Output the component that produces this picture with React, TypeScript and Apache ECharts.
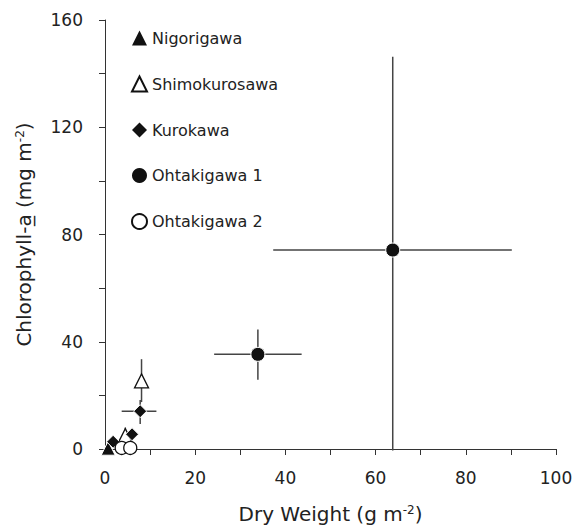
import React, { useEffect, useRef } from "react";
import * as echarts from "echarts";

// ---- data ----
const seriesNames = ["Nigorigawa", "Shimokurosawa", "Kurokawa", "Ohtakigawa 1", "Ohtakigawa 2"];

const nigoriX = [0.7];
const nigoriY = [0.3];

const shimoX = [4.5, 8.1];
const shimoY = [5.0, 25.4];
const shimoYLow = [3.0, 17.5];
const shimoYHigh = [8.0, 33.5];

const kuroX = [1.8, 6.0, 7.8];
const kuroY = [2.7, 5.5, 14.1];
const kuroXLow = [1.8, 6.0, 3.7];
const kuroXHigh = [1.8, 6.0, 11.4];
const kuroYLow = [2.7, 5.5, 9.3];
const kuroYHigh = [2.7, 5.5, 18.3];

const ohta1X = [33.9, 63.8];
const ohta1Y = [35.3, 74.2];
const ohta1XLow = [24.2, 37.3];
const ohta1XHigh = [43.6, 90.2];
const ohta1YLow = [25.8, -0.6];
const ohta1YHigh = [44.6, 146.3];

const ohta2X = [3.7, 5.6];
const ohta2Y = [0.4, 0.4];
const ohta2XLow = [3.7, 5.6];
const ohta2XHigh = [3.7, 7.0];

const xTicks = [0, 20, 40, 60, 80, 100];
const yTicks = [0, 40, 80, 120, 160];

const INK = "#111";
const FONT = "DejaVu Sans";

function pts(xs: number[], ys: number[]) {
  return xs.map((x, i) => [x, ys[i]]);
}
function errRows(xs: number[], ys: number[], xl?: number[], xh?: number[], yl?: number[], yh?: number[]) {
  return xs.map((x, i) => [
    x,
    ys[i],
    xl ? xl[i] : x,
    xh ? xh[i] : x,
    yl ? yl[i] : ys[i],
    yh ? yh[i] : ys[i],
  ]);
}

const errData = [
  ...errRows(shimoX, shimoY, undefined, undefined, shimoYLow, shimoYHigh),
  ...errRows(kuroX, kuroY, kuroXLow, kuroXHigh, kuroYLow, kuroYHigh),
  ...errRows(ohta1X, ohta1Y, ohta1XLow, ohta1XHigh, ohta1YLow, ohta1YHigh),
  ...errRows(ohta2X, ohta2Y, ohta2XLow, ohta2XHigh),
];

export default function App() {
  const ref = useRef<HTMLDivElement>(null);
  useEffect(() => {
    document.body.style.margin = "0";
    const chart = echarts.init(ref.current!, null, { renderer: "svg" });
    const filled = { color: INK, borderColor: "#fff", borderWidth: 1, opacity: 1 };
    const open = { color: "#fff", borderColor: INK, borderWidth: 1.3, opacity: 1 };
    const supRich = { sup: { fontSize: 12, verticalAlign: "top", fontFamily: FONT, color: "#222" } };
    chart.setOption({
      animation: false,
      backgroundColor: "#fff",
      textStyle: { fontFamily: FONT },
      grid: { left: 105, right: 20, top: 20, bottom: 79 },
      legend: {
        data: [
          { name: seriesNames[0], itemStyle: { borderWidth: 0 } },
          { name: seriesNames[1] },
          { name: seriesNames[2], itemStyle: { borderWidth: 0 } },
          { name: seriesNames[3], itemStyle: { borderWidth: 0 } },
          { name: seriesNames[4] },
        ],
        orient: "vertical",
        left: 126,
        top: 25,
        itemGap: 29.5,
        itemWidth: 15,
        itemHeight: 15,
        textStyle: { fontSize: 16, color: "#222", fontFamily: FONT },
      },
      xAxis: {
        type: "value",
        min: 0,
        max: 100,
        interval: 10,
        name: "Dry Weight (g m{sup|-2})",
        nameLocation: "middle",
        nameGap: 55,
        nameTextStyle: { fontSize: 20, color: "#222", fontFamily: FONT, rich: supRich },
        axisLine: { lineStyle: { color: "#333", width: 1 } },
        axisTick: { inside: false, length: 6, lineStyle: { color: "#333" } },
        axisLabel: {
          margin: 20,
          fontSize: 17,
          color: "#222",
          formatter: (v: number) => (xTicks.includes(v) ? String(v) : ""),
        },
        splitLine: { show: false },
      },
      yAxis: {
        type: "value",
        min: 0,
        max: 160,
        interval: 20,
        name: "Chlorophyll-a\u0332 (mg m{sup|-2})",
        nameLocation: "middle",
        nameRotate: 90,
        nameGap: 71,
        nameTextStyle: { fontSize: 20, color: "#222", fontFamily: FONT, rich: supRich },
        axisLine: { show: true, lineStyle: { color: "#333", width: 1 } },
        axisTick: { show: true, inside: false, length: 6, lineStyle: { color: "#333" } },
        axisLabel: {
          margin: 22,
          fontSize: 17,
          color: "#222",
          formatter: (v: number) => (yTicks.includes(v) ? String(v) : ""),
        },
        splitLine: { show: false },
      },
      series: [
        {
          type: "custom",
          name: "errors",
          z: 1,
          silent: true,
          encode: { x: [0, 2, 3], y: [1, 4, 5] },
          data: errData,
          renderItem: (params: any, api: any) => {
            const x = api.value(0), y = api.value(1);
            const xl = api.value(2), xh = api.value(3), yl = api.value(4), yh = api.value(5);
            const style = { stroke: "#444", lineWidth: 1.5 };
            const children: any[] = [];
            if (xh > xl) {
              const a = api.coord([xl, y]), b = api.coord([xh, y]);
              children.push({ type: "line", shape: { x1: a[0], y1: a[1], x2: b[0], y2: b[1] }, style });
            }
            if (yh > yl) {
              const a = api.coord([x, yl]), b = api.coord([x, yh]);
              children.push({ type: "line", shape: { x1: a[0], y1: a[1], x2: b[0], y2: b[1] }, style });
            }
            return { type: "group", children };
          },
        },
        {
          type: "scatter", name: seriesNames[0], z: 3, symbol: "triangle", symbolSize: 14,
          itemStyle: filled, data: pts(nigoriX, nigoriY),
        },
        {
          type: "scatter", name: seriesNames[1], z: 3, symbol: "triangle", symbolSize: 14,
          itemStyle: open, data: pts(shimoX, shimoY),
        },
        {
          type: "scatter", name: seriesNames[2], z: 3, symbol: "diamond", symbolSize: 13,
          itemStyle: filled, data: pts(kuroX, kuroY),
        },
        {
          type: "scatter", name: seriesNames[3], z: 3, symbol: "circle", symbolSize: 14,
          itemStyle: filled, data: pts(ohta1X, ohta1Y),
        },
        {
          type: "scatter", name: seriesNames[4], z: 3, symbol: "circle", symbolSize: 13,
          itemStyle: open, data: pts(ohta2X, ohta2Y),
        },
      ],
    });
    return () => chart.dispose();
  }, []);
  return <div ref={ref} style={{ width: 576, height: 529 }} />;
}
